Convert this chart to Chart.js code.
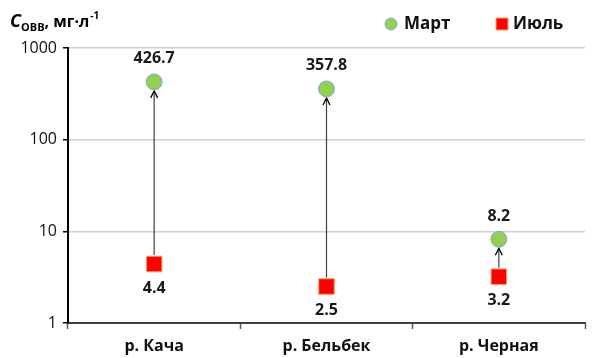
<!DOCTYPE html>
<html>
<head>
<meta charset="utf-8">
<script src="https://cdn.jsdelivr.net/npm/chart.js@4"></script>
<style>
  html, body { margin: 0; padding: 0; background: #fff; }
  #wrap { width: 597px; height: 358px; position: relative; }
</style>
</head>
<body>
<div id="wrap"><canvas id="c" width="597" height="358"></canvas></div>
<script>
// Rivers and suspended-matter concentrations (mg/L), log scale
const rivers = ['р. Кача', 'р. Бельбек', 'р. Черная'];
const marchValues = [426.7, 357.8, 8.2];
const julyValues = [4.4, 2.5, 3.2];
const yTicks = [1, 10, 100, 1000];
const seriesNames = ['Март', 'Июль'];

const FONT = '"Open Sans", sans-serif';

// Arrows from the July value up to the March value for each river
const arrowPlugin = {
  id: 'arrows',
  beforeDatasetsDraw(chart) {
    const { ctx, scales } = chart;
    const x = scales.x, y = scales.y;
    ctx.save();
    rivers.forEach((r, i) => {
      const px = x.getPixelForValue(i);
      const y0 = y.getPixelForValue(julyValues[i]) - 9;
      const y1 = y.getPixelForValue(marchValues[i]) + 9;
      ctx.strokeStyle = '#404040';
      ctx.lineWidth = 1.2;
      ctx.beginPath();
      ctx.moveTo(px, y0);
      ctx.lineTo(px, y1 + 1);
      ctx.stroke();
      ctx.strokeStyle = '#000';
      ctx.lineWidth = 1.3;
      ctx.beginPath();
      ctx.moveTo(px - 3.5, y1 + 7);
      ctx.lineTo(px, y1);
      ctx.lineTo(px + 3.5, y1 + 7);
      ctx.stroke();
    });
    ctx.restore();
  }
};

// Value labels: March above its point, July below
const valueLabels = {
  id: 'valueLabels',
  afterDatasetsDraw(chart) {
    const { ctx, scales } = chart;
    ctx.save();
    ctx.font = 'bold 16px ' + FONT;
    ctx.fillStyle = '#1a1a1a';
    ctx.textAlign = 'center';
    ctx.textBaseline = 'middle';
    rivers.forEach((r, i) => {
      const px = scales.x.getPixelForValue(i);
      ctx.fillText(marchValues[i].toFixed(1), px, scales.y.getPixelForValue(marchValues[i]) - 23);
      ctx.fillText(julyValues[i].toFixed(1), px, scales.y.getPixelForValue(julyValues[i]) + 24);
    });
    ctx.restore();
  }
};

// Axis title C_ОВВ, мг·л^-1 and the series key along the top
const headerPlugin = {
  id: 'header',
  afterDraw(chart) {
    const ctx = chart.ctx;
    ctx.save();
    ctx.fillStyle = '#000';
    ctx.textBaseline = 'alphabetic';
    ctx.textAlign = 'left';
    let x = 10, base = 27;
    ctx.font = 'italic bold 18px ' + FONT;
    ctx.fillText('C', x, base);
    x += ctx.measureText('C').width;
    ctx.font = 'bold 11px ' + FONT;
    ctx.fillText('ОВВ', x, base + 4);
    x += ctx.measureText('ОВВ').width;
    ctx.font = 'bold 16px ' + FONT;
    ctx.fillText(', мг·л', x, base);
    x += ctx.measureText(', мг·л').width;
    ctx.font = 'bold 10px ' + FONT;
    ctx.fillText('-1', x + 1, base - 8);

    // key entries, styled from the datasets
    const ds = chart.data.datasets;
    const keyX = [391, 502];
    const keyY = 24;
    ds.forEach((d, i) => {
      const cx = keyX[i];
      ctx.fillStyle = d.backgroundColor;
      ctx.strokeStyle = d.borderColor;
      ctx.lineWidth = 1;
      ctx.beginPath();
      if (d.pointStyle === 'circle') {
        ctx.arc(cx, keyY, 6, 0, Math.PI * 2);
      } else {
        ctx.rect(cx - 6, keyY - 6, 12, 12);
      }
      ctx.fill();
      ctx.stroke();
      ctx.fillStyle = '#111';
      ctx.font = 'bold 17px ' + FONT;
      ctx.textBaseline = 'middle';
      ctx.fillText(d.label, cx + (i === 0 ? 13 : 11), keyY);
      ctx.textBaseline = 'alphabetic';
    });
    ctx.restore();
  }
};

new Chart(document.getElementById('c'), {
  type: 'line',
  data: {
    labels: rivers,
    datasets: [
      {
        label: seriesNames[0],
        data: marchValues,
        showLine: false,
        pointStyle: 'circle',
        pointRadius: 8,
        pointHoverRadius: 8,
        backgroundColor: '#92d050',
        borderColor: '#7fa8d8',
        pointBorderWidth: 1
      },
      {
        label: seriesNames[1],
        data: julyValues,
        showLine: false,
        pointStyle: 'rect',
        pointRadius: 11,
        pointHoverRadius: 11,
        backgroundColor: '#ff0000',
        borderColor: '#f4a460',
        pointBorderWidth: 1
      }
    ]
  },
  options: {
    responsive: false,
    animation: false,
    events: [],
    layout: { padding: { top: 48, right: 3, left: 0, bottom: 0 } },
    plugins: {
      tooltip: { enabled: false },
      legend: { display: false }
    },
    scales: {
      x: {
        type: 'category',
        offset: true,
        grid: {
          offset: true,
          drawOnChartArea: false,
          drawTicks: true,
          tickLength: 6,
          tickColor: '#595959',
          tickWidth: 1.5
        },
        border: { color: '#404040', width: 2 },
        ticks: {
          font: { family: FONT, size: 16, weight: 'bold' },
          color: '#111',
          padding: 8
        },
        afterFit(s) { s.height = 35; }
      },
      y: {
        type: 'logarithmic',
        min: 1,
        max: 1000,
        afterBuildTicks(s) { s.ticks = yTicks.map(v => ({ value: v })); },
        ticks: {
          callback: v => String(v),
          font: { family: FONT, size: 16 },
          color: '#111',
          padding: 6
        },
        grid: {
          color: '#d0d0d0',
          lineWidth: 1.5,
          tickColor: '#000',
          tickLength: 5,
          tickWidth: 1.5
        },
        border: { color: '#000', width: 2 },
        afterFit(s) { s.width = 68; }
      }
    }
  },
  plugins: [arrowPlugin, valueLabels, headerPlugin]
});
</script>
</body>
</html>
